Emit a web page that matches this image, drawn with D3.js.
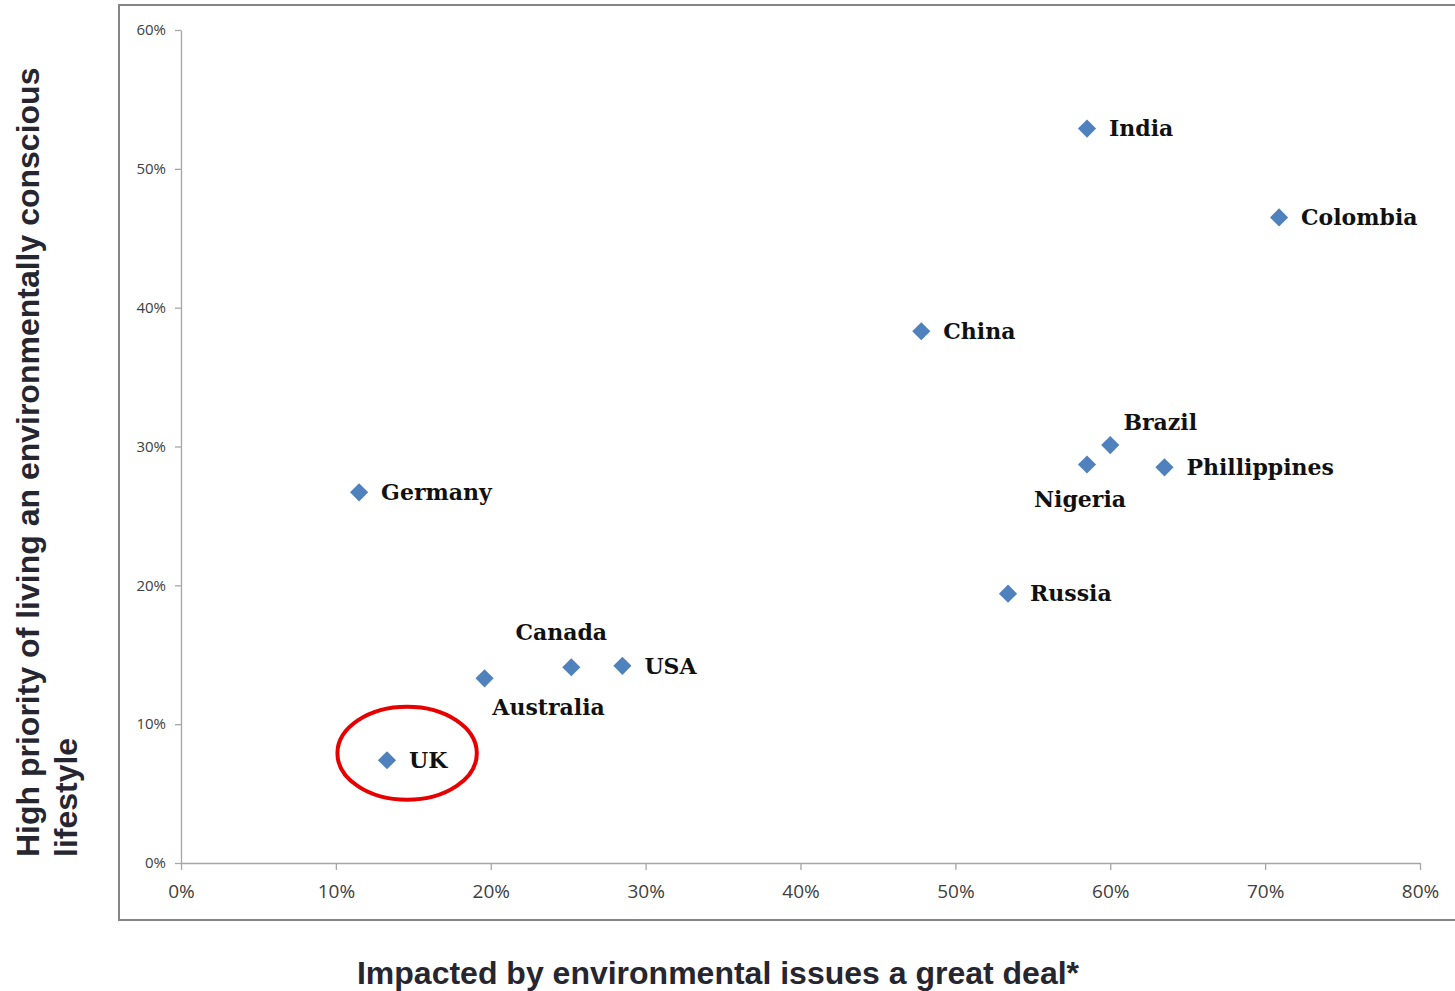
<!DOCTYPE html>
<html>
<head>
<meta charset="utf-8">
<script src="https://cdn.jsdelivr.net/npm/d3@7"></script>
<style>
  body { margin: 0; background: #fff; }
  svg { display: block; }
</style>
</head>
<body>
<div id="chart"></div>
<script>
// data (percent)
var countries = ["India", "Colombia", "China", "Brazil", "Nigeria", "Phillippines",
                 "Germany", "Russia", "Canada", "USA", "Australia", "UK"];
var impacted  = [58.5, 70.9, 47.8, 60.0, 58.5, 63.5, 11.5, 53.4, 25.2, 28.5, 19.6, 13.3];
var priority  = [52.9, 46.5, 38.3, 30.1, 28.7, 28.5, 26.7, 19.4, 14.1, 14.2, 13.3, 7.4];
var xTicks = [0, 10, 20, 30, 40, 50, 60, 70, 80];
var yTicks = [0, 10, 20, 30, 40, 50, 60];
var highlight = "UK";

// where each label sits relative to its marker
var labelPlace = {
    "Brazil":    {dx: 50, dy: -23, anchor: "middle"},
    "Nigeria":   {dx: -7, dy: 35, anchor: "middle"},
    "Canada":    {dx: -10, dy: -35, anchor: "middle"},
    "Australia": {dx: 64, dy: 29, anchor: "middle"}
};

var width = 1455, height = 991;
var svg = d3.select("#chart").append("svg")
    .attr("width", width)
    .attr("height", height);

// outer frame (right edge runs off the picture)
svg.append("rect")
    .attr("x", 119).attr("y", 5)
    .attr("width", 1360).attr("height", 915)
    .attr("fill", "none")
    .attr("stroke", "#858585")
    .attr("stroke-width", 2);

var xScale = d3.scaleLinear().domain([0, 80]).range([181, 1420]);
var yScale = d3.scaleLinear().domain([0, 60]).range([863, 30]);

var xAxis = d3.axisBottom(xScale)
    .tickValues(xTicks)
    .tickSize(7)
    .tickSizeOuter(0)
    .tickPadding(15)
    .tickFormat(function(d) { return d + "%"; });

var yAxis = d3.axisLeft(yScale)
    .tickValues(yTicks)
    .tickSize(6)
    .tickSizeOuter(0)
    .tickPadding(9)
    .tickFormat(function(d) { return d + "%"; });

var gx = svg.append("g")
    .attr("transform", "translate(0," + yScale(0) + ")")
    .call(xAxis);
gx.selectAll("text")
    .style("font-family", "'Open Sans', sans-serif")
    .style("font-size", "19px")
    .attr("fill", "#404040");

var gy = svg.append("g")
    .attr("transform", "translate(" + xScale(0) + ",0)")
    .call(yAxis);
gy.selectAll("text")
    .style("font-family", "'Open Sans', sans-serif")
    .style("font-size", "15px")
    .attr("fill", "#404040");

svg.selectAll(".domain, .tick line")
    .attr("stroke", "#a6a6a6")
    .attr("stroke-width", 1.3);

// markers
var diamond = d3.symbol().type(d3.symbolDiamond2).size(210);
var pts = svg.append("g");
pts.selectAll("path")
    .data(countries)
    .enter().append("path")
    .attr("d", diamond)
    .attr("transform", function(d, i) {
        return "translate(" + xScale(impacted[i]) + "," + yScale(priority[i]) + ")";
    })
    .attr("fill", "#4f81bd");

// labels
pts.selectAll("text")
    .data(countries)
    .enter().append("text")
    .attr("x", function(d, i) {
        var p = labelPlace[d];
        return xScale(impacted[i]) + (p ? p.dx : 22);
    })
    .attr("y", function(d, i) {
        var p = labelPlace[d];
        return yScale(priority[i]) + (p ? p.dy : 0);
    })
    .attr("dy", "0.35em")
    .attr("text-anchor", function(d) {
        return labelPlace[d] ? labelPlace[d].anchor : "start";
    })
    .style("font-family", "'DejaVu Serif', serif")
    .style("font-weight", "bold")
    .style("font-size", "22px")
    .attr("fill", "#111")
    .text(function(d) { return d; });

// red ring around the UK
var hi = countries.indexOf(highlight);
svg.append("ellipse")
    .attr("cx", xScale(impacted[hi] + 1.3))
    .attr("cy", yScale(priority[hi] + 0.5))
    .attr("rx", xScale(4.5) - xScale(0))
    .attr("ry", yScale(0) - yScale(3.35))
    .attr("fill", "none")
    .attr("stroke", "#e60000")
    .attr("stroke-width", 4);

// axis titles
svg.append("text")
    .attr("x", 718)
    .attr("y", 984)
    .attr("text-anchor", "middle")
    .style("font-family", "'Liberation Sans', Arial, sans-serif")
    .style("font-weight", "bold")
    .style("font-size", "32px")
    .attr("fill", "#262630")
    .text("Impacted by environmental issues a great deal*");

var yTitle = svg.append("text")
    .attr("transform", "translate(39,857) rotate(-90)")
    .style("font-family", "'Liberation Sans', Arial, sans-serif")
    .style("font-weight", "bold")
    .style("font-size", "32px")
    .attr("fill", "#262630");
yTitle.append("tspan").attr("x", 0).attr("y", 0)
    .text("High priority of living an environmentally conscious");
yTitle.append("tspan").attr("x", 0).attr("y", 38)
    .text("lifestyle");
</script>
</body>
</html>
